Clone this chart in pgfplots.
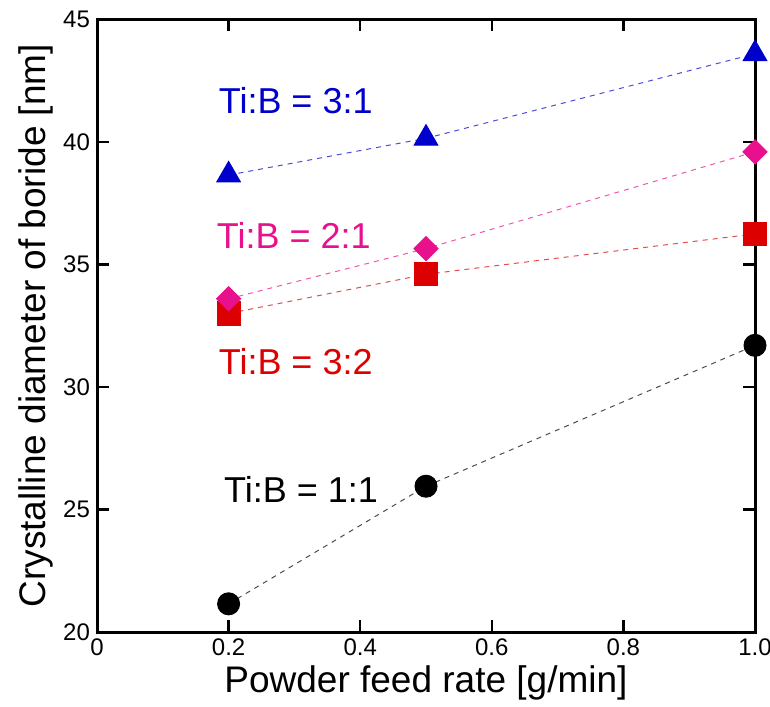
\documentclass[border=0pt]{standalone}
\usepackage{pgfplots}
\pgfplotsset{compat=1.18}
\usepackage{fontspec}
\setmainfont{Liberation Sans}
\definecolor{cblue}{RGB}{0,0,204}
\definecolor{cpink}{RGB}{232,16,140}
\definecolor{cred}{RGB}{221,0,0}
\begin{document}
\begin{tikzpicture}
\path[use as bounding box] (0,0) rectangle (385pt,353pt);
\begin{axis}[
  at={(48.5pt,37pt)}, anchor=south west,
  scale only axis, width=329pt, height=306.25pt,
  xmin=0, xmax=1.0, ymin=20, ymax=45,
  clip=false,
  axis line style={line width=1.5pt},
  tick style={line width=1.2pt, black},
  major tick length=6pt,
  tick align=inside,
  xtick={0,0.2,0.4,0.6,0.8,1.0},
  xticklabels={0,0.2,0.4,0.6,0.8,1.0},
  ytick={20,25,30,35,40,45},
  /pgf/number format/assume math mode=true,
  ticklabel style={font=\fontsize{12pt}{14pt}\selectfont},
  xlabel={Powder feed rate [g/min]},
  ylabel={Crystalline diameter of boride [nm]},
  label style={font=\fontsize{18.5pt}{22pt}\selectfont},
  xlabel style={yshift=2pt},
  ylabel style={yshift=-2pt},
  every axis plot/.append style={line width=0.5pt, dash pattern=on 2.5pt off 2.5pt},
]
\addplot[color=cblue!70, mark=triangle*, mark size=6.8pt, mark options={solid, fill=cblue, draw=cblue}]
  coordinates {(0.2,38.65) (0.5,40.15) (1.0,43.6)};
\addplot[color=cred!70, mark=square*, mark size=5.8pt, mark options={solid, fill=cred, draw=cred}]
  coordinates {(0.2,33.0) (0.5,34.6) (1.0,36.25)};
\addplot[color=cpink!70, mark=square*, mark size=4.25pt, mark options={solid, rotate=45, fill=cpink, draw=cpink}]
  coordinates {(0.2,33.6) (0.5,35.65) (1.0,39.6)};
\addplot[color=black!70, mark=*, mark size=5.5pt, mark options={solid, fill=black, draw=black}]
  coordinates {(0.2,21.15) (0.5,25.95) (1.0,31.7)};
\node[text=cblue, font=\fontsize{18pt}{22pt}\selectfont] at (axis cs:0.302,41.67) {Ti:B = 3:1};
\node[text=cpink, font=\fontsize{18pt}{22pt}\selectfont] at (axis cs:0.299,36.2) {Ti:B = 2:1};
\node[text=cred, font=\fontsize{18pt}{22pt}\selectfont] at (axis cs:0.302,31.04) {Ti:B = 3:2};
\node[text=black, font=\fontsize{18pt}{22pt}\selectfont] at (axis cs:0.31,25.82) {Ti:B = 1:1};
\end{axis}
\end{tikzpicture}
\end{document}
